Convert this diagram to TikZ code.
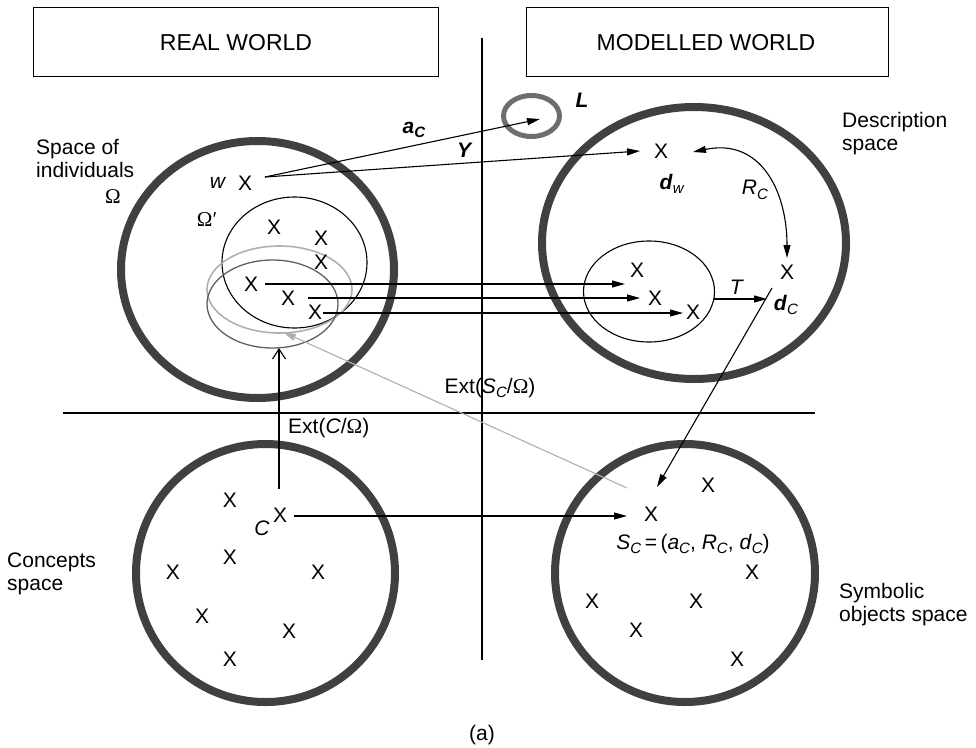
\documentclass[tikz,border=0pt]{standalone}
\usepackage{fontspec}
\setmainfont{Liberation Sans}
\newfontfamily\symfont{Liberation Serif}
\usetikzlibrary{arrows.meta}
\newcommand{\mysub}[1]{\raisebox{-0.4ex}{\fontsize{15}{15}\selectfont #1}}
\newcommand{\Om}{{\symfont Ω}}
\newcommand{\bi}[1]{\textbf{\textit{#1}}}
\definecolor{ringgray}{HTML}{404040}
\definecolor{lring}{HTML}{6E6E6E}
\definecolor{lightg}{HTML}{B0B0B0}
\definecolor{darkg}{HTML}{606060}
\begin{document}
\begin{tikzpicture}[x=1pt,y=-1pt,
  font=\fontsize{21}{23}\selectfont,
  ring/.style={draw=ringgray,line width=8pt},
  thinline/.style={line width=1.1pt},
  arr/.style={thinline,-{Triangle[length=13pt,width=7pt]}},
  xm/.style={inner sep=0pt},
  lbl/.style={inner sep=0pt},
  title/.style={inner sep=0pt,font=\fontsize{23}{26}\selectfont}]
\useasboundingbox (0,0) rectangle (976,747);
% boxes
\draw[line width=1pt] (33,7) rectangle (438,76);
\draw[line width=1pt] (526,7) rectangle (888,76);
\node[title] (rw) at (236,43) {REAL WORLD};
\node[title] (mw) at (706,43) {MODELLED WORLD};
% axes
\coordinate (vtop) at (482,38);
\coordinate (vbot) at (482,660);
\coordinate (hl) at (63,413);
\coordinate (hr) at (815,413);
\draw[thinline] (vtop) -- (vbot);
\draw[thinline] (hl) -- (hr);
% big rings
\draw[ring] (257.5,269.5) ellipse [x radius=136.5pt, y radius=128.5pt];
\draw[ring] (694,243) ellipse [x radius=152pt, y radius=136pt];
\draw[ring] (265.5,573) ellipse [x radius=129.5pt, y radius=129pt];
\draw[ring] (685,573) ellipse [x radius=130pt, y radius=129pt];
\draw[draw=lring,line width=5pt] (531.5,116) ellipse [x radius=28pt, y radius=20.5pt];
% inner ellipses
\draw[line width=1.1pt] (294.5,262.5) ellipse [x radius=72.5pt, y radius=65.5pt];
\draw[draw=lightg,line width=1.6pt] (279.5,289.5) ellipse [x radius=72.5pt, y radius=43.5pt];
\draw[draw=darkg,line width=1.3pt] (272.5,304) ellipse [x radius=65.5pt, y radius=44pt];
\draw[line width=1.1pt] (649,291.5) ellipse [x radius=65.5pt, y radius=50.5pt];
% labels
\node[lbl,anchor=west,align=left] (soi) at (36,158.5) {Space of\\individuals};
\node[lbl] (om) at (113,197) {\Om};
\node[lbl] (omp) at (207,220) {\Om{\symfont ′}};
\node[lbl,anchor=west,align=left] (ds) at (842,133.5) {Description\\space};
\node[lbl,anchor=west,align=left] (cs) at (7,573.5) {Concepts\\space};
\node[lbl,anchor=west,align=left] (sos) at (839,605) {Symbolic\\objects space};
\node[lbl] (wl) at (218,183) {\textit{w}};
% X marks left top
\node[xm] (w) at (245,183) {X};
\node[xm] (o1) at (274,227) {X};
\node[xm] (o2) at (321,238) {X};
\node[xm] (o3) at (321,262) {X};
\node[xm] (o4) at (251,284) {X};
\node[xm] (o5) at (288,298) {X};
\node[xm] (o6) at (315,312) {X};
% description X marks
\node[xm] (dw) at (661,151) {X};
\node[xm] (dc) at (787,272) {X};
\node[xm] (e1) at (637,270) {X};
\node[xm] (e2) at (655,298) {X};
\node[xm] (e3) at (693,312) {X};
% concepts X
\node[xm] (c1) at (230,500) {X};
\node[xm] (cC) at (280,515) {X};
\node[xm] (c3) at (230,557) {X};
\node[xm] (c4) at (173,572) {X};
\node[xm] (c5) at (318,572) {X};
\node[xm] (c6) at (202,616) {X};
\node[xm] (c7) at (289,631) {X};
\node[xm] (c8) at (230,659) {X};
\node[lbl] (cl) at (262,528) {\textit{C}};
% symbolic X
\node[xm] (sC) at (651,514) {X};
\node[xm] (s2) at (708,485) {X};
\node[xm] (s3) at (752,572) {X};
\node[xm] (s4) at (592,601) {X};
\node[xm] (s5) at (696,601) {X};
\node[xm] (s6) at (636,630) {X};
\node[xm] (s7) at (737,659) {X};
\node[lbl] (scl) at (693,544) {\textit{S}\mysub{\textit{C}}\,=\,(\textit{a}\mysub{\textit{C}}, \textit{R}\mysub{\textit{C}}, \textit{d}\mysub{\textit{C}})};
% math labels
\node[lbl] (ac) at (414,130) {\bi{a}\mysub{\bi{C}}};
\node[lbl] (Y) at (465,150) {\bi{Y}};
\node[lbl] (L) at (582,100) {\bi{L}};
\node[lbl] (dwl) at (672,184) {\bi{d}\mysub{\textit{w}}};
\node[lbl] (dcl) at (786,305) {\bi{d}\mysub{\textit{C}}};
\node[lbl] (rcl) at (755,190) {\textit{R}\mysub{\textit{C}}};
\node[lbl] (Tl) at (737,287) {\textit{T}};
\node[lbl] (ext1) at (288,428) [anchor=west] {Ext(\textit{C}/\Om)};
\node[lbl] (ext2) at (490,388) {Ext(\textit{S}\mysub{\textit{C}}/\Om)};
\node[lbl] (cap) at (482,735) {(a)};
% connector coordinates
\coordinate (wst) at (265,177);
\coordinate (Ltip) at (540,119);
\coordinate (dwtip) at (640,151);
\coordinate (a1) at (265,284);
\coordinate (a1t) at (625,284);
\coordinate (a2) at (308,298);
\coordinate (a2t) at (640,298);
\coordinate (a3) at (323,313);
\coordinate (a3t) at (683,313);
\coordinate (Ts) at (714,299);
\coordinate (Tt) at (767,299);
\coordinate (rc1) at (693,152);
\coordinate (rc2) at (787,258);
\coordinate (sl) at (772,288);
\coordinate (sltip) at (657,487);
\coordinate (gs) at (627,488);
\coordinate (gt) at (283,332);
\coordinate (es) at (279,489);
\coordinate (et) at (279,348);
\coordinate (cs1) at (294,516);
\coordinate (cst) at (627,516);
% connectors
\draw[arr] (wst) -- (Ltip);
\draw[arr] (wst) -- (dwtip);
\draw[arr] (a1) -- (a1t);
\draw[arr] (a2) -- (a2t);
\draw[arr] (a3) -- (a3t);
\draw[arr] (Ts) -- (Tt);
\draw[thinline,{Triangle[length=13pt,width=7pt]}-{Triangle[length=13pt,width=7pt]}] (rc1) .. controls (760,138) and (787,190) .. (rc2);
\draw[arr] (sl) -- (sltip);
\draw[thinline,draw=lightg,-{Triangle[length=13pt,width=7pt]},fill=lightg] (gs) -- (gt);
\draw[thinline,-{Straight Barb[length=10pt,width=13pt]}] (es) -- (et);
\draw[arr] (cs1) -- (cst);
\end{tikzpicture}
\end{document}
